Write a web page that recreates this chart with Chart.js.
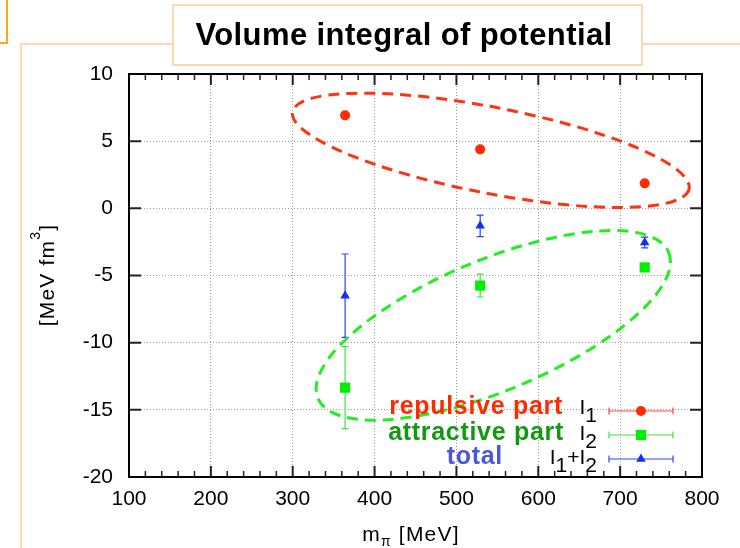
<!DOCTYPE html>
<html>
<head>
<meta charset="utf-8">
<title>Volume integral of potential</title>
<script src="https://cdn.jsdelivr.net/npm/chart.js@4.4.1/dist/chart.umd.min.js"></script>
<style>
  html, body { margin: 0; padding: 0; background: #fff; }
  canvas { display: block; }
</style>
</head>
<body>
<canvas id="volumeChart" width="740" height="548"></canvas>
<script>
// pion mass [MeV]
const mPi = [364, 529, 730];
// volume integrals [MeV fm^3]
const repulsive = [6.92, 4.39, 1.86];
const repulsiveErr = [0.12, 0.1, 0.1];
const attractive = [-13.35, -5.75, -4.4];
const attractiveErr = [3.05, 0.85, 0.25];
const total = [-6.5, -1.3, -2.55];
const totalErr = [3.1, 0.8, 0.4];

const xTicks = [100, 200, 300, 400, 500, 600, 700, 800];
const yTicks = [-20, -15, -10, -5, 0, 5, 10];
const seriesNames = ['repulsive part', 'attractive part', 'total'];

const FONT = "'Liberation Sans', Arial, Helvetica, sans-serif";
Chart.defaults.font.family = FONT;
Chart.defaults.color = '#000';

// dashed rings grouping the points (center in data units, radii in px)
const rings = [
    {cx: 542, cy: 4.32, rx: 202, ry: 43, angle: 11, color: '#ff3311'},
    {cx: 545, cy: -8.71, rx: 190, ry: 65.5, angle: -22.6, color: '#22ee22'}
];

function piecesWidth(ctx, pieces) {
    let w = 0;
    pieces.forEach(p => {
        ctx.font = p.font;
        w += ctx.measureText(p.t).width;
    });
    return w;
}

function drawPieces(ctx, pieces, x, y, align) {
    let cx = x;
    if (align === 'right') cx = x - piecesWidth(ctx, pieces);
    if (align === 'center') cx = x - piecesWidth(ctx, pieces) / 2;
    ctx.textAlign = 'left';
    ctx.textBaseline = 'alphabetic';
    pieces.forEach(p => {
        ctx.font = p.font;
        ctx.fillText(p.t, cx, y + (p.dy || 0));
        cx += ctx.measureText(p.t).width;
    });
}

const decor = {
    id: 'decor',
    beforeDraw(chart) {
        const ctx = chart.ctx;
        ctx.save();
        ctx.fillStyle = '#fff';
        ctx.fillRect(0, 0, chart.width, chart.height);

        ctx.strokeStyle = '#f7a823';
        ctx.lineWidth = 2;
        ctx.beginPath();
        ctx.moveTo(7, -2);
        ctx.lineTo(7, 43);
        ctx.lineTo(-2, 43);
        ctx.stroke();

        ctx.strokeStyle = '#fdd8b4';
        ctx.beginPath();
        ctx.moveTo(21, chart.height + 2);
        ctx.lineTo(21, 44);
        ctx.lineTo(chart.width + 2, 44);
        ctx.stroke();

        ctx.fillStyle = '#fff';
        ctx.fillRect(173, 5, 469, 60);
        ctx.strokeRect(173, 5, 469, 60);

        ctx.fillStyle = '#000';
        ctx.font = 'bold 31px ' + FONT;
        ctx.letterSpacing = '0.4px';
        ctx.textAlign = 'center';
        ctx.textBaseline = 'alphabetic';
        ctx.fillText('Volume integral of potential', 404, 45);
        ctx.restore();
    }
};

const errorBars = {
    id: 'errorBars',
    beforeDatasetsDraw(chart) {
        const ctx = chart.ctx;
        const xs = chart.scales.x, ys = chart.scales.y;
        chart.data.datasets.forEach(ds => {
            ctx.save();
            ctx.strokeStyle = ds.errorColor;
            ctx.lineWidth = 1.2;
            ds.data.forEach((p, i) => {
                const px = xs.getPixelForValue(p.x);
                const top = ys.getPixelForValue(p.y + ds.errors[i]);
                const bot = ys.getPixelForValue(p.y - ds.errors[i]);
                ctx.beginPath();
                ctx.moveTo(px, top);
                ctx.lineTo(px, bot);
                ctx.moveTo(px - 3.5, top);
                ctx.lineTo(px + 3.5, top);
                ctx.moveTo(px - 3.5, bot);
                ctx.lineTo(px + 3.5, bot);
                ctx.stroke();
            });
            ctx.restore();
        });
    }
};

const ringPlugin = {
    id: 'rings',
    afterDatasetsDraw(chart) {
        const ctx = chart.ctx;
        const xs = chart.scales.x, ys = chart.scales.y;
        rings.forEach(r => {
            ctx.save();
            ctx.strokeStyle = r.color;
            ctx.lineWidth = 3;
            ctx.setLineDash([11, 7]);
            ctx.beginPath();
            ctx.ellipse(xs.getPixelForValue(r.cx), ys.getPixelForValue(r.cy), r.rx, r.ry,
                r.angle * Math.PI / 180, 0, Math.PI * 2);
            ctx.stroke();
            ctx.restore();
        });
    }
};

const frame = {
    id: 'frame',
    afterDraw(chart) {
        const ctx = chart.ctx;
        const a = chart.chartArea;
        const xs = chart.scales.x, ys = chart.scales.y;
        ctx.save();

        // inward ticks
        ctx.strokeStyle = '#222';
        for (let v = xTicks[0]; v <= xTicks[xTicks.length - 1]; v += 20) {
            const px = xs.getPixelForValue(v);
            const major = v % 100 === 0;
            const len = major ? 11 : 6;
            ctx.lineWidth = major ? 2 : 1.5;
            ctx.beginPath();
            ctx.moveTo(px, a.top);
            ctx.lineTo(px, a.top + len);
            ctx.moveTo(px, a.bottom);
            ctx.lineTo(px, a.bottom - len);
            ctx.stroke();
        }
        yTicks.forEach(v => {
            const py = ys.getPixelForValue(v);
            ctx.lineWidth = 2;
            ctx.beginPath();
            ctx.moveTo(a.left, py);
            ctx.lineTo(a.left + 12, py);
            ctx.moveTo(a.right, py);
            ctx.lineTo(a.right - 12, py);
            ctx.stroke();
        });

        ctx.strokeStyle = '#000';
        ctx.lineWidth = 2;
        ctx.strokeRect(a.left, a.top, a.right - a.left, a.bottom - a.top);

        // axis titles
        ctx.fillStyle = '#000';
        ctx.letterSpacing = '1.2px';
        const f20 = '21px ' + FONT, f13 = '14px ' + FONT;
        drawPieces(ctx, [
            {t: 'm', font: f20},
            {t: 'π', font: f13, dy: 5},
            {t: ' [MeV]', font: f20}
        ], 411, 541, 'center');

        ctx.save();
        ctx.translate(54, 275);
        ctx.rotate(-Math.PI / 2);
        drawPieces(ctx, [
            {t: '[MeV fm', font: f20},
            {t: '3', font: f13, dy: -14},
            {t: ']', font: f20}
        ], 0, 0, 'center');
        ctx.restore();

        // key
        const labelColors = ['#ff2a00', '#119a11', '#4a58d8'];
        const lineColors = ['#ff4a3a', '#44e044', '#3344ee'];
        const markColors = ['#ff2a00', '#00ee00', '#1030ff'];
        const styles = ['circle', 'rect', 'triangle'];
        const radii = [5, 7.2, 5.5];
        const labelRight = [563, 564, 503];
        const baselines = [414, 440, 464];
        const sampleY = [411, 435, 459];
        const f21 = '21px ' + FONT;
        const formulas = [
            [{t: 'I', font: f21}, {t: '1', font: f21, dy: 8}],
            [{t: 'I', font: f21}, {t: '2', font: f21, dy: 8}],
            [{t: 'I', font: f21}, {t: '1', font: f21, dy: 8}, {t: '+', font: f21},
             {t: 'I', font: f21}, {t: '2', font: f21, dy: 8}]
        ];
        seriesNames.forEach((name, i) => {
            ctx.letterSpacing = '0.7px';
            ctx.fillStyle = labelColors[i];
            ctx.font = 'bold 25px ' + FONT;
            ctx.textAlign = 'right';
            ctx.textBaseline = 'alphabetic';
            ctx.fillText(name, labelRight[i], baselines[i]);

            ctx.letterSpacing = '0px';
            ctx.fillStyle = '#000';
            drawPieces(ctx, formulas[i], 597, baselines[i], 'right');

            const y = sampleY[i];
            ctx.strokeStyle = lineColors[i];
            ctx.lineWidth = 1.2;
            ctx.beginPath();
            ctx.moveTo(609, y);
            ctx.lineTo(673, y);
            ctx.moveTo(609, y - 3.5);
            ctx.lineTo(609, y + 3.5);
            ctx.moveTo(673, y - 3.5);
            ctx.lineTo(673, y + 3.5);
            ctx.stroke();
            ctx.fillStyle = markColors[i];
            Chart.helpers.drawPoint(ctx, {pointStyle: styles[i], radius: radii[i], rotation: 0, borderWidth: 0}, 641, y);
        });
        ctx.restore();
    }
};

const gridColor = (n) => (c) => (c.index === 0 || c.index === n - 1) ? 'rgba(0,0,0,0)' : '#9c9c9c';

function makeSet(name, values, errors, style, radius, color, errorColor) {
    return {
        label: name,
        data: mPi.map((m, i) => ({x: m, y: values[i]})),
        errors: errors,
        errorColor: errorColor,
        pointStyle: style,
        pointRadius: radius,
        pointHoverRadius: radius,
        backgroundColor: color,
        borderColor: color,
        pointBorderWidth: 0,
        showLine: false
    };
}

new Chart(document.getElementById('volumeChart'), {
    type: 'scatter',
    data: {
        datasets: [
            makeSet(seriesNames[0], repulsive, repulsiveErr, 'circle', 5, '#ff2a00', '#ff4a3a'),
            makeSet(seriesNames[1], attractive, attractiveErr, 'rect', 7.2, '#00ee00', '#44e044'),
            makeSet(seriesNames[2], total, totalErr, 'triangle', 5.5, '#1030ff', '#2a44ee')
        ]
    },
    options: {
        responsive: false,
        animation: false,
        events: [],
        layout: {padding: {left: 0, right: 38, top: 74, bottom: 0}},
        plugins: {
            legend: {display: false},
            tooltip: {enabled: false},
            title: {display: false}
        },
        scales: {
            x: {
                type: 'linear',
                min: xTicks[0],
                max: xTicks[xTicks.length - 1],
                afterBuildTicks: s => { s.ticks = xTicks.map(v => ({value: v})); },
                afterFit: s => { s.height = 71; },
                ticks: {font: {size: 21}, color: '#000', padding: 10, maxRotation: 0, autoSkip: false},
                grid: {drawTicks: false, color: gridColor(xTicks.length), lineWidth: 1},
                border: {display: false, dash: [1, 2]}
            },
            y: {
                type: 'linear',
                min: yTicks[0],
                max: yTicks[yTicks.length - 1],
                afterBuildTicks: s => { s.ticks = yTicks.map(v => ({value: v})); },
                afterFit: s => { s.width = 129; },
                ticks: {font: {size: 21}, color: '#000', padding: 16, autoSkip: false},
                grid: {drawTicks: false, color: gridColor(yTicks.length), lineWidth: 1},
                border: {display: false, dash: [1, 2]}
            }
        }
    },
    plugins: [decor, errorBars, ringPlugin, frame]
});
</script>
</body>
</html>
